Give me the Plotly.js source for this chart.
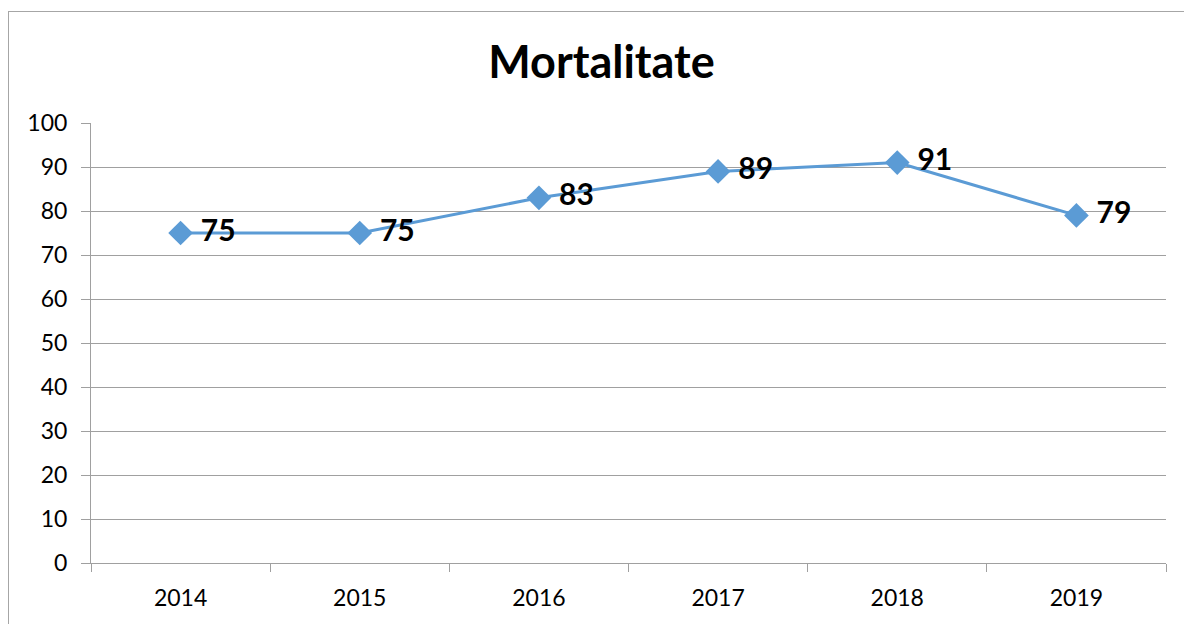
<!DOCTYPE html>
<html><head><meta charset="utf-8">
<script src="https://cdn.plot.ly/plotly-3.0.1.min.js"></script>
<style>
html,body{margin:0;padding:0;background:#fff;overflow:hidden;}
#frame{position:absolute;left:8px;top:11px;width:1200px;height:640px;border:1px solid #a6a6a6;box-sizing:border-box;}
#chart{position:absolute;left:0;top:0;width:1184px;height:624px;}
</style></head>
<body>
<div id="frame"></div>
<div id="chart"></div>
<script>
const years = ['2014','2015','2016','2017','2018','2019'];
const mortality = [75, 75, 83, 89, 91, 79];
const yTicks = [0,10,20,30,40,50,60,70,80,90,100];

const trace = {
  x: years, y: mortality, type: 'scatter', mode: 'lines+markers+text',
  line: {color: '#5b9bd5', width: 3},
  marker: {symbol: 'diamond', size: 19, color: '#5b9bd5'},
  text: mortality.map(String),
  textposition: 'middle right',
  texttemplate: ' %{text}',
  textfont: {family: 'Lato, "Open Sans", sans-serif', size: 30, color: '#000', weight: 'bold'},
  cliponaxis: false,
  hoverinfo: 'skip'
};
const layout = {
  width: 1184, height: 624,
  paper_bgcolor: 'rgba(0,0,0,0)', plot_bgcolor: 'rgba(0,0,0,0)',
  margin: {l: 91, r: 18, t: 123, b: 61},
  showlegend: false,
  title: {text: '<b>Mortalitate</b>', x: 0.508, xanchor: 'center', y: 0.9, yanchor: 'middle',
    font: {family: 'Lato, "Open Sans", sans-serif', size: 45, color: '#000'}},
  xaxis: {type: 'category', tickson: 'boundaries', ticks: 'outside', ticklen: 8, tickcolor: '#a0a0a0',
    showgrid: false, showline: true, linecolor: '#a0a0a0', linewidth: 1,
    ticklabelstandoff: 14,
    tickfont: {family: 'Lato, "Open Sans", sans-serif', size: 23, color: '#000'}, zeroline: false,
    range: [-0.5, 5.5]},
  yaxis: {range: [0, 100], tickvals: yTicks, ticks: 'outside', ticklen: 9, tickcolor: '#a0a0a0',
    showgrid: true, gridcolor: '#a0a0a0', gridwidth: 1, showline: true, linecolor: '#a0a0a0',
    zeroline: false, ticklabelstandoff: 9,
    tickfont: {family: 'Lato, "Open Sans", sans-serif', size: 23, color: '#000'}}
};
Plotly.newPlot('chart', [trace], layout, {displayModeBar: false, staticPlot: true});
</script>
</body></html>
